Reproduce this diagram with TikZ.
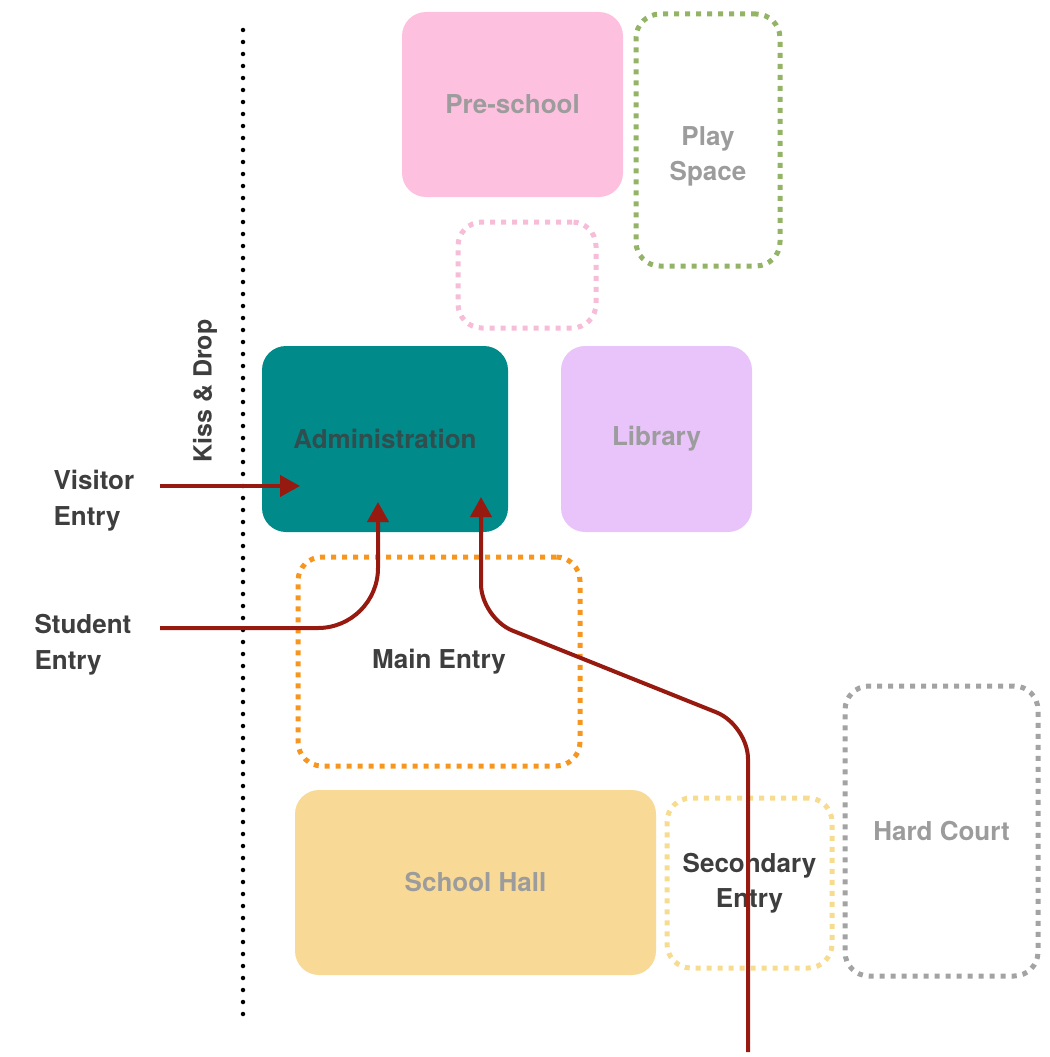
\documentclass[tikz,border=0pt]{standalone}
\usepackage{fontspec}
\setmainfont{TeX Gyre Heros}
\usepackage{xcolor}
\definecolor{walkred}{HTML}{961A10}
\definecolor{adminteal}{HTML}{008A8A}
\definecolor{preschoolpink}{HTML}{FDC1DF}
\definecolor{librarylilac}{HTML}{E8C4FB}
\definecolor{hallyellow}{HTML}{F9D996}
\definecolor{playgreen}{HTML}{93B466}
\definecolor{spotpink}{HTML}{F6BCD8}
\definecolor{mainorange}{HTML}{F7961E}
\definecolor{secondyellow}{HTML}{F7DB8E}
\definecolor{courtgrey}{HTML}{A3A3A3}
\definecolor{softtext}{HTML}{9C9C9C}
\definecolor{darktext}{HTML}{3E3E3E}
\usetikzlibrary{arrows.meta, positioning}

\begin{document}
\begin{tikzpicture}[x=1pt, y=-1pt, >={Triangle[length=20pt, width=21pt]},
  room/.style={rounded corners=24pt, inner sep=0pt, align=center,
               font=\bfseries\fontsize{26}{35}\selectfont, text=softtext},
  solidroom/.style={room, fill=#1},
  openroom/.style={room, draw=#1, line width=5pt, dash pattern=on 5pt off 6pt},
  entrylabel/.style={align=left, font=\bfseries\fontsize{26}{36}\selectfont, text=darktext},
  walk/.style={->, draw=walkred, line width=4pt}]

  \useasboundingbox (0,0) rectangle (1049,1057);

  % kiss & drop kerb
  \draw[line width=4.5pt, line cap=round, dash pattern=on 0pt off 12pt]
    (243,30) -- (243,1015);
  \node[rotate=90, font=\bfseries\fontsize{25}{30}\selectfont, text=darktext]
    (kissdrop) at (205,391) {Kiss \& Drop};

  % buildings
  \node[solidroom=preschoolpink, minimum width=221pt, minimum height=185pt]
    (preschool) at (512.5,104.5) {\raisebox{-3pt}{Pre-school}};
  \node[openroom=playgreen, minimum width=144pt, minimum height=252pt,
        label={[room, yshift=-16pt]center:Play\\Space}]
    (playspace) at (708,140) {};
  \node[openroom=spotpink, minimum width=138pt, minimum height=106pt]
    (pinkspot) at (527,275) {};
  \node[solidroom=adminteal, text=darktext!80!adminteal, minimum width=246pt, minimum height=186pt]
    (admin) at (385,439) {\raisebox{-2pt}{Administration}};
  \node[solidroom=librarylilac, minimum width=191pt, minimum height=186pt]
    (library) at (656.5,439) {\raisebox{-3pt}{Library}};
  \node[openroom=mainorange, text=darktext, minimum width=282pt, minimum height=209pt]
    (mainentry) at (439,661.5) {Main Entry};
  \node[solidroom=hallyellow, minimum width=361pt, minimum height=185pt]
    (hall) at (475.5,882.5) {School Hall};
  \node[openroom=secondyellow, text=darktext, minimum width=165pt, minimum height=170pt]
    (secondary) at (749.5,883) {Secondary\\Entry};
  \node[openroom=courtgrey, minimum width=193pt, minimum height=290pt]
    (hardcourt) at (941.5,831) {Hard Court};

  % entries
  \node[entrylabel, anchor=west] (visitor) at (50,501) {Visitor\\Entry};
  \node[entrylabel, anchor=west] (student) at (31,645) {Student\\Entry};

  \coordinate (visitorstart) at (160,486);
  \coordinate (visitortip) at (300,486);
  \coordinate (studentstart) at (160,628);
  \coordinate (studenttip) at (378,502);
  \coordinate (southstart) at (748,1052);
  \coordinate (southbend) at (748,725);
  \coordinate (northbend) at (481,618);
  \coordinate (southtip) at (481,497);

  \draw[walk] (visitorstart) -- (visitortip);
  \draw[walk, rounded corners=60pt] (studentstart) -| (studenttip);
  \draw[walk, rounded corners=34pt] (southstart) -- (southbend) -- (northbend) -- (southtip);
\end{tikzpicture}
\end{document}
